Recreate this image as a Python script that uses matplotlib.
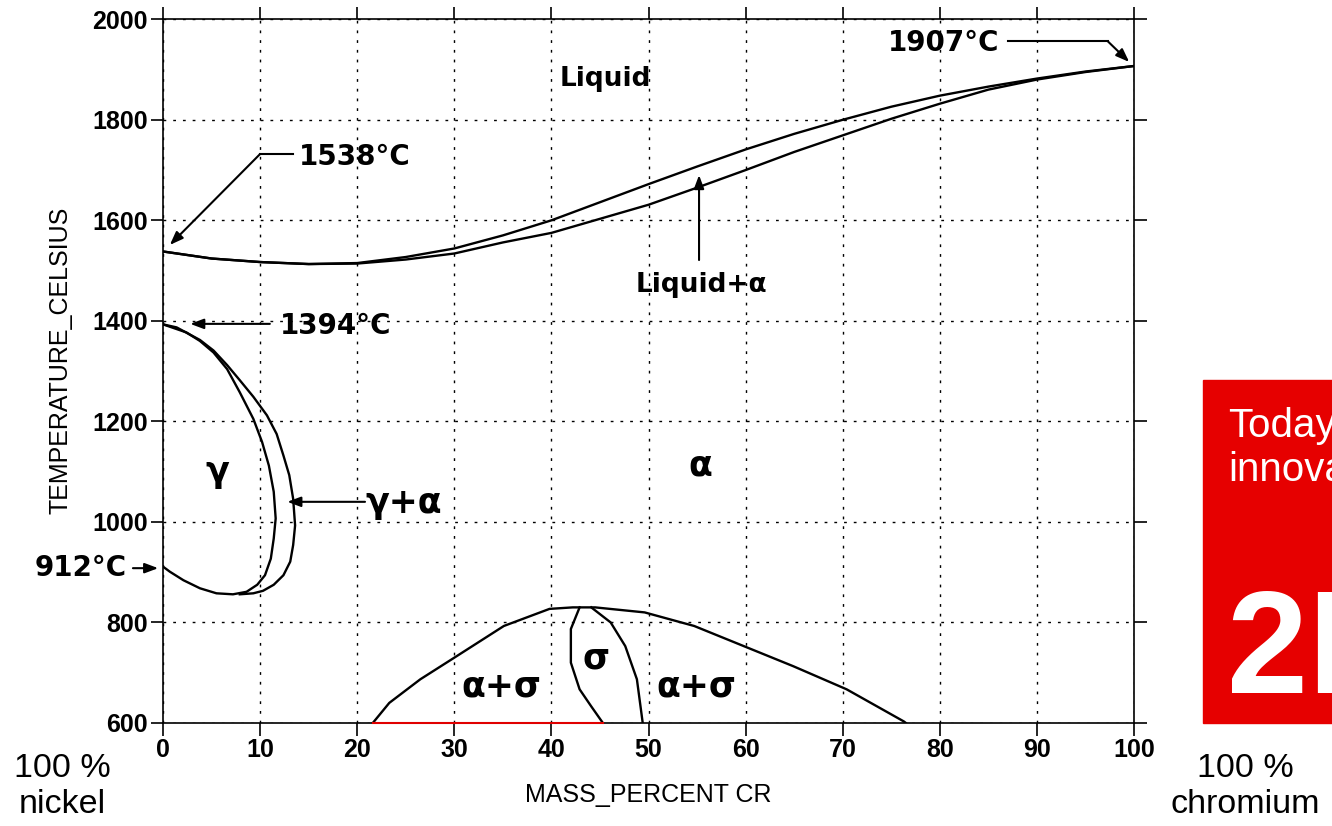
import matplotlib.pyplot as plt
from matplotlib.patches import Rectangle

# liquidus / solidus (mass % Cr, deg C)
liq_x = [0, 5, 10, 15, 20, 25, 30, 35, 40, 45, 50, 55, 60, 65, 70, 75, 80, 85, 90, 95, 100]
liq_t = [1538, 1524, 1517, 1513, 1515, 1527, 1544, 1570, 1600, 1636, 1672, 1707, 1741, 1772, 1800, 1826, 1848, 1866, 1882, 1896, 1907]
sol_x = [0, 5, 10, 15, 20, 25, 30, 35, 40, 45, 50, 55, 60, 65, 70, 75, 80, 85, 90, 95, 100]
sol_t = [1538, 1524, 1517, 1513, 1514, 1522, 1534, 1556, 1575, 1603, 1631, 1665, 1700, 1736, 1769, 1802, 1832, 1860, 1880, 1895, 1907]

# gamma loop
gam_in_x = [0, 2.4, 3.8, 5.2, 6.6, 7.9, 9.3, 10.2, 10.9, 11.4, 11.6, 11.4, 11.1, 10.5, 9.7, 8.6, 7.2, 5.5, 3.8, 2.1, 0.7, 0]
gam_in_t = [1393, 1377, 1360, 1337, 1304, 1258, 1205, 1159, 1112, 1060, 1007, 967, 927, 894, 875, 861, 856, 858, 868, 884, 901, 911]
gam_out_x = [0, 1.4, 3.8, 5.2, 6.6, 7.9, 9.3, 10.7, 11.7, 12.4, 13.0, 13.4, 13.6, 13.4, 13.1, 12.4, 11.4, 10.3, 9.3, 7.9]
gam_out_t = [1393, 1387, 1362, 1341, 1312, 1282, 1249, 1212, 1175, 1132, 1093, 1046, 993, 954, 921, 894, 875, 863, 858, 856]

# sigma region
dome_x = [21.6, 23.3, 26.5, 30, 35.1, 39.8, 42.2, 44.5, 49.6, 54.7, 59.8, 64.9, 70.4, 76.3, 76.5]
dome_t = [600, 640, 687, 730, 793, 827, 830, 830, 820, 793, 753, 713, 667, 603, 600]
sig_l_x = [42.9, 42.0, 42.0, 42.9, 44.1, 45.3]
sig_l_t = [830, 787, 720, 667, 633, 600]
sig_r_x = [44.1, 46.1, 47.6, 48.8, 49.4]
sig_r_t = [830, 800, 753, 687, 600]
red_x = [21.6, 45.3]
red_t = [600, 600]

fig = plt.figure(figsize=(13.32, 8.26), dpi=100)
ax = fig.add_axes([0.1224, 0.1247, 0.729, 0.852])

lw = 1.7
ax.plot(liq_x, liq_t, color='black', lw=lw)
ax.plot(sol_x, sol_t, color='black', lw=lw)
ax.plot(gam_in_x, gam_in_t, color='black', lw=lw)
ax.plot(gam_out_x, gam_out_t, color='black', lw=lw)
ax.plot(dome_x, dome_t, color='black', lw=lw)
ax.plot(sig_l_x, sig_l_t, color='black', lw=lw)
ax.plot(sig_r_x, sig_r_t, color='black', lw=lw)
ax.plot(red_x, red_t, color='#e00000', lw=1.5, clip_on=False, zorder=5)

ax.set_xlim(0, 100)
ax.set_ylim(600, 2000)
ax.set_xticks(range(0, 101, 10))
ax.set_yticks(range(600, 2001, 200))
ax.grid(True, color='black', linestyle=(0, (2, 5)), lw=1.0)
ax.tick_params(direction='out', length=9, width=1.2, top=True, right=True,
               labelsize=18, pad=2, colors='black')
for lab in ax.get_xticklabels() + ax.get_yticklabels():
    lab.set_fontfamily('Liberation Sans')
    lab.set_fontweight('bold')
for s in ax.spines.values():
    s.set_linewidth(1.2)

ax.set_xlabel('MASS_PERCENT CR', fontsize=18, fontfamily='Liberation Sans')
ax.set_ylabel('TEMPERATURE_CELSIUS', fontsize=18, fontfamily='Liberation Sans')
ax.xaxis.set_label_coords(0.5, -0.085)
ax.yaxis.set_label_coords(-0.093, 0.515)

# phase labels
bold = dict(fontfamily='DejaVu Sans', fontweight='bold', fontsize=19, ha='center', va='center')
greek = dict(fontfamily='DejaVu Sans', fontweight='bold', fontsize=25, ha='center', va='center')
ax.text(45.6, 1881, 'Liquid', **bold)
ax.text(55.4, 1471, 'Liquid+α', **bold)
ax.text(55.3, 1112, 'α', **greek)
ax.text(5.6, 1100, 'γ', **greek)
ax.text(44.6, 728, 'σ', **greek)
ax.text(34.8, 672, 'α+σ', **greek)
ax.text(54.9, 672, 'α+σ', **greek)

arrow = dict(arrowstyle='-|>,head_length=0.8,head_width=0.3', color='black', lw=1.5,
             shrinkA=0, shrinkB=0)

# 1538
ax.text(19.7, 1726, '1538°C', fontfamily='DejaVu Sans', fontweight='bold', fontsize=20,
        ha='center', va='center')
ax.plot([13.4, 10.0], [1732, 1732], color='black', lw=1.5)
ax.annotate('', xy=(0.7, 1551), xytext=(10.0, 1732), arrowprops=arrow)

# 1394
ax.text(17.8, 1390, '1394°C', fontfamily='DejaVu Sans', fontweight='bold', fontsize=20,
        ha='center', va='center')
ax.annotate('', xy=(2.8, 1394), xytext=(11.0, 1394), arrowprops=arrow)

# 912
ax.text(-8.5, 908, '912°C', fontfamily='DejaVu Sans', fontweight='bold', fontsize=20,
        ha='center', va='center', clip_on=False)
ax.annotate('', xy=(-0.5, 908), xytext=(-3.1, 908), arrowprops=arrow, annotation_clip=False)

# gamma + alpha
ax.text(24.8, 1038, 'γ+α', **greek)
ax.annotate('', xy=(12.8, 1040), xytext=(20.8, 1040), arrowprops=arrow)

# liquid + alpha arrow
ax.annotate('', xy=(55.2, 1690), xytext=(55.2, 1521), arrowprops=arrow)

# 1907
ax.text(80.4, 1952, '1907°C', fontfamily='DejaVu Sans', fontweight='bold', fontsize=20,
        ha='center', va='center')
ax.plot([87.0, 97.3], [1956, 1956], color='black', lw=1.5)
ax.annotate('', xy=(99.5, 1915), xytext=(97.3, 1956), arrowprops=arrow)

# outside texts
fig.text(0.0465, 0.088, '100 %\nnickel', fontfamily='Liberation Sans', fontsize=24.5,
         ha='center', va='top', linespacing=1.2)
fig.text(0.935, 0.088, '100 %\nchromium', fontfamily='Liberation Sans', fontsize=24.5,
         ha='center', va='top', linespacing=1.2)

fig.patches.append(Rectangle((0.9032, 0.1247), 0.2, 0.4153, transform=fig.transFigure,
                             color='#e60000', zorder=0))
fig.text(0.922, 0.507, "Today's\ninnovation", fontfamily='Liberation Sans', fontsize=29,
         color='white', ha='left', va='top', linespacing=1.2)
fig.text(0.9215, 0.161, '2D', fontfamily='Liberation Sans', fontweight='bold', fontsize=105,
         color='white', ha='left', va='baseline')

fig.savefig('out.png', dpi=100)
